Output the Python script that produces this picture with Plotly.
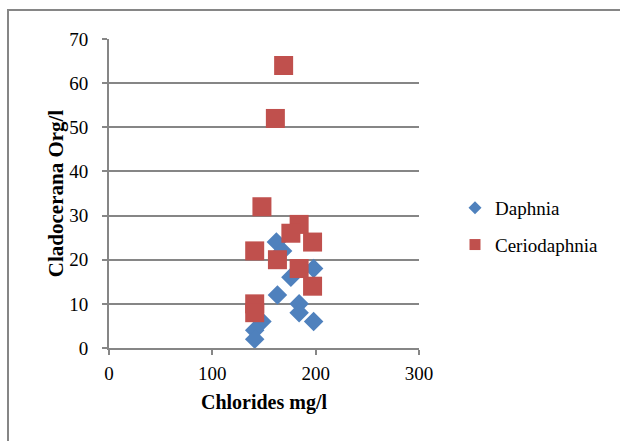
import plotly.graph_objects as go

# Data
daphnia_x = [162, 168, 198, 176, 163, 184, 184, 198, 148, 141, 141]
daphnia_y = [24, 22, 18, 16, 12, 10, 8, 6, 6, 4, 2]

cerio_x = [169, 161, 148, 184, 176, 197, 141, 163, 184, 197, 141, 141]
cerio_y = [64, 52, 32, 28, 26, 24, 22, 20, 18, 14, 10, 8]

x_ticks = [0, 100, 200, 300]
y_ticks = [0, 10, 20, 30, 40, 50, 60, 70]

BLUE = "#4F81BD"
RED = "#C0504D"
GRID = "#868686"
FONT = "Liberation Serif"

W, H = 620, 441
L, R, T, B = 109, 201, 39, 93
pw, ph = W - L - R, H - T - B

fig = go.Figure()
fig.add_trace(go.Scatter(x=daphnia_x, y=daphnia_y, mode="markers", name="Daphnia",
                         marker=dict(symbol="diamond", size=15, color=BLUE), showlegend=False))
fig.add_trace(go.Scatter(x=cerio_x, y=cerio_y, mode="markers", name="Ceriodaphnia",
                         marker=dict(symbol="square", size=19, color=RED), showlegend=False))
# legend entries
fig.add_trace(go.Scatter(x=[None], y=[None], mode="markers", name="Daphnia", legendgroup="a",
                         marker=dict(symbol="diamond", size=10, color=BLUE)))
fig.add_trace(go.Scatter(x=[None], y=[None], mode="markers", name="Ceriodaphnia", legendgroup="b",
                         marker=dict(symbol="square", size=11, color=RED)))

# chart area border
fig.add_shape(type="rect", xref="paper", yref="paper",
              x0=(8 - L) / pw, x1=(W + 10 - L) / pw,
              y0=(H - B - (H + 10)) / ph, y1=(H - B - 10) / ph,
              line=dict(color=GRID, width=2), layer="below")

fig.update_layout(
    width=W, height=H,
    margin=dict(l=L, r=R, t=T, b=B),
    paper_bgcolor="white", plot_bgcolor="white",
    font=dict(family=FONT, size=19, color="black"),
    xaxis=dict(range=[0, 300], tickvals=x_ticks, showgrid=False, zeroline=False,
               showline=True, linecolor=GRID, linewidth=2, ticks="outside", ticklen=5,
               tickcolor=GRID, tickwidth=2, ticklabelstandoff=2,
               tickfont=dict(family=FONT, size=19, color="black"),
               title=dict(text="<b>Chlorides mg/l</b>",
                          font=dict(family=FONT, size=20, color="black"), standoff=12)),
    yaxis=dict(range=[0, 70], tickvals=y_ticks, showgrid=True, gridcolor=GRID, gridwidth=2,
               zeroline=False, showline=True, linecolor=GRID, linewidth=2, ticks="outside",
               ticklen=5, tickcolor=GRID, tickwidth=2, ticklabelstandoff=10,
               tickfont=dict(family=FONT, size=19, color="black"),
               title=dict(text="<b>Cladocerana Org/l</b>",
                          font=dict(family=FONT, size=21, color="black"), standoff=0)),
    legend=dict(x=(455 - L) / pw, y=(H - B - 189) / ph, xanchor="left", yanchor="top",
                traceorder="grouped", tracegroupgap=9, itemwidth=30,
                font=dict(family=FONT, size=19, color="black"), bgcolor="rgba(0,0,0,0)"),
    showlegend=True,
)

fig.write_html("out.html")
